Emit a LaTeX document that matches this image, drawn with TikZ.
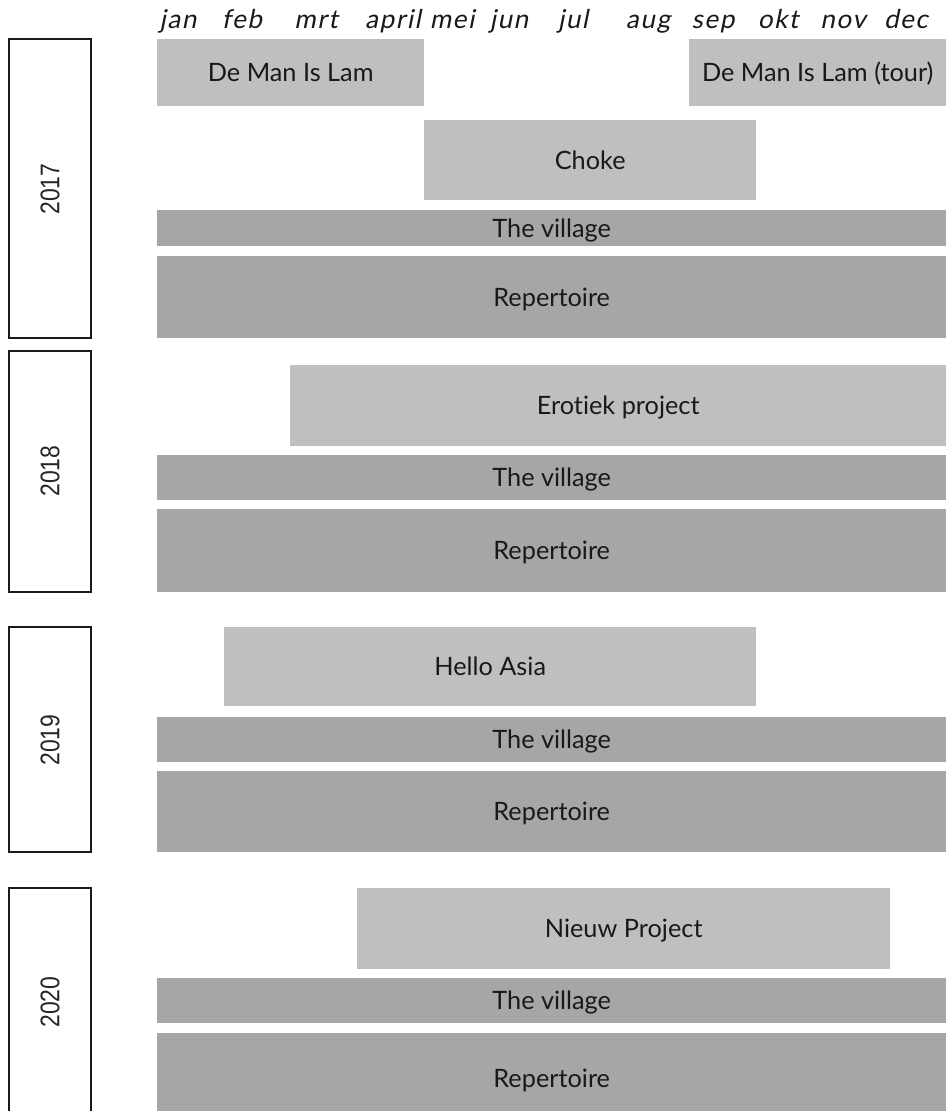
\documentclass[tikz,border=0pt]{standalone}
\usepackage{fontspec}
\setmainfont[Ligatures=CommonOff]{Lato}
\newfontfamily\monthfont[FakeSlant=0.2,LetterSpace=6,Ligatures=CommonOff]{Lato}
\newfontfamily\yearfont[FakeStretch=0.85]{Liberation Sans}
\definecolor{lightbar}{HTML}{BFBFBF}
\definecolor{darkbar}{HTML}{A6A6A6}
\definecolor{frame}{HTML}{1A1A1A}
\tikzset{
  barbase/.style={inner sep=0pt, anchor=north west, text=black!90, text height=18pt, text depth=0pt, font=\fontsize{25.3}{29}\selectfont},
  lightbox/.style={barbase, fill=lightbar},
  darkbox/.style={barbase, fill=darkbar},
  monthlabel/.style={inner sep=0pt, anchor=base, text=black!90, font=\monthfont\fontsize{26}{30}\selectfont},
  yearbox/.style={draw=frame, line width=2pt},
  yearlabel/.style={rotate=90, inner sep=0pt, text=black!85, font=\yearfont\fontsize{27}{30}\selectfont}
}
\begin{document}
\begin{tikzpicture}[x=1pt,y=-1pt]
\clip (0,0) rectangle (946,1111);
\fill[white] (0,0) rectangle (946,1111);
% months
\foreach \m/\x in {jan/178,feb/242,mrt/316,april/393,mei/452,jun/509,jul/573,aug/648,sep/713,okt/778,nov/843,dec/906}
  \node[monthlabel] (m-\m) at (\x,28) {\m};
% year boxes
\draw[yearbox] (9,39) rectangle (91,338);
\node[yearlabel] (y2017) at (50,189) {2017};
\draw[yearbox] (9,351) rectangle (91,592);
\node[yearlabel] (y2018) at (50,471) {2018};
\draw[yearbox] (9,627) rectangle (91,852);
\node[yearlabel] (y2019) at (50,740) {2019};
\draw[yearbox] (9,888) rectangle (91,1130);
\node[yearlabel] (y2020) at (50,1002) {2020};
% 2017
\node[lightbox, minimum width=267pt, minimum height=67pt] (dmil) at (157,39) {De Man Is Lam};
\node[lightbox, minimum width=257pt, minimum height=67pt] (dmilt) at (689,39) {De Man Is Lam (tour)};
\node[lightbox, minimum width=332pt, minimum height=80pt] (choke) at (424,120) {Choke};
\node[darkbox, minimum width=789pt, minimum height=36pt] (v17) at (157,210) {The village};
\node[darkbox, minimum width=789pt, minimum height=82pt] (r17) at (157,256) {Repertoire};
% 2018
\node[lightbox, minimum width=656pt, minimum height=81pt] (ero) at (290,365) {Erotiek project};
\node[darkbox, minimum width=789pt, minimum height=45pt] (v18) at (157,455) {The village};
\node[darkbox, minimum width=789pt, minimum height=83pt] (r18) at (157,509) {Repertoire};
% 2019
\node[lightbox, minimum width=532pt, minimum height=79pt] (asia) at (224,627) {Hello Asia};
\node[darkbox, minimum width=789pt, minimum height=45pt] (v19) at (157,717) {The village};
\node[darkbox, minimum width=789pt, minimum height=81pt] (r19) at (157,771) {Repertoire};
% 2020
\node[lightbox, minimum width=533pt, minimum height=81pt] (nieuw) at (357,888) {Nieuw Project};
\node[darkbox, minimum width=789pt, minimum height=45pt] (v20) at (157,978) {The village};
\node[darkbox, minimum width=789pt, minimum height=90pt] (r20) at (157,1033) {Repertoire};
\end{tikzpicture}
\end{document}
